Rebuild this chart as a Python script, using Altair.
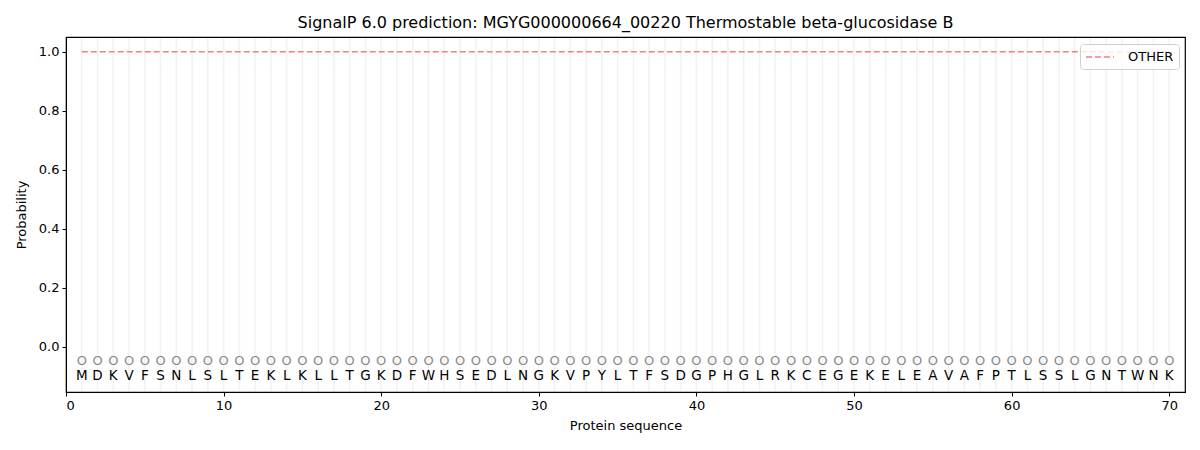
import altair as alt
import pandas as pd

sequence = list("MDKVFSNLSLTEKLKLLTGKDFWHSEDLNGKVPYLTFSDGPHGLRKCEGEKELEAVAFPTLSSLGNTWNK")
positions = list(range(1, len(sequence) + 1))
other_prob = [1.0] * len(sequence)
marker_labels = ["O"] * len(sequence)

df = pd.DataFrame({
    "pos": positions,
    "aa": sequence,
    "other": other_prob,
    "mark": marker_labels,
    "series": ["OTHER"] * len(sequence),
})

x_scale = alt.Scale(domain=[0, 71], nice=False, zero=False)
y_scale = alt.Scale(domain=[-0.153, 1.05], nice=False, zero=False)

base = alt.Chart(df)

grid = base.mark_rule(color="#f2f2f2", strokeWidth=1.6).encode(
    x=alt.X("pos:Q", scale=x_scale,
            axis=alt.Axis(values=[0, 10, 20, 30, 40, 50, 60, 70], format="d",
                          title="Protein sequence", grid=False, titlePadding=7)),
    y=alt.value(1),
    y2=alt.value(354),
)

line = base.mark_line(strokeWidth=1.6, strokeDash=[6, 3]).encode(
    x=alt.X("pos:Q", scale=x_scale),
    y=alt.Y("other:Q", scale=y_scale,
            axis=alt.Axis(values=[0, 0.2, 0.4, 0.6, 0.8, 1.0], format=".1f",
                          title="Probability", grid=False, titlePadding=10)),
    color=alt.Color("series:N",
                    scale=alt.Scale(domain=["OTHER"], range=["#f08080"]),
                    legend=alt.Legend(title=None, orient="none", legendX=1014, legendY=7,
                                      symbolType="M-1,0L3,0", symbolStrokeWidth=1.6,
                                      symbolDash=[6, 3], symbolSize=196,
                                      labelOffset=27,
                                      labelFontSize=13, labelFont="DejaVu Sans",
                                      labelColor="black",
                                      strokeColor="#d0d0d0", cornerRadius=3,
                                      fillColor="rgba(255,255,255,0.8)", padding=5)),
)

circles = base.mark_text(fontSize=13, font="DejaVu Sans", color="#8a8a8a",
                         baseline="middle").encode(
    x=alt.X("pos:Q", scale=x_scale),
    y=alt.Y("yv:Q", scale=y_scale),
    text="mark:N",
).transform_calculate(yv="-0.0475")

letters = base.mark_text(fontSize=13.5, font="DejaVu Sans", color="black",
                         baseline="middle").encode(
    x=alt.X("pos:Q", scale=x_scale),
    y=alt.Y("yv:Q", scale=y_scale),
    text="aa:N",
).transform_calculate(yv="-0.1")

chart = alt.layer(grid, line, circles, letters).properties(
    width=1119,
    height=355,
    title=alt.TitleParams(
        "SignalP 6.0 prediction: MGYG000000664_00220 Thermostable beta-glucosidase B",
        fontSize=16, font="DejaVu Sans", fontWeight="normal", color="black",
        anchor="middle", offset=6),
    autosize=alt.AutoSizeParams(type="none"),
    padding={"left": 58, "top": 29, "right": 7, "bottom": 42},
).configure_view(
    stroke="black", strokeWidth=1.2
).configure_axis(
    labelFont="DejaVu Sans", titleFont="DejaVu Sans",
    labelFontSize=13, titleFontSize=13, titleFontWeight="normal",
    labelColor="black", titleColor="black",
    domainColor="black", tickColor="black", tickSize=4,
    labelPadding=3,
)

chart.save("out.html", embed_options={"renderer": "svg", "actions": False})
